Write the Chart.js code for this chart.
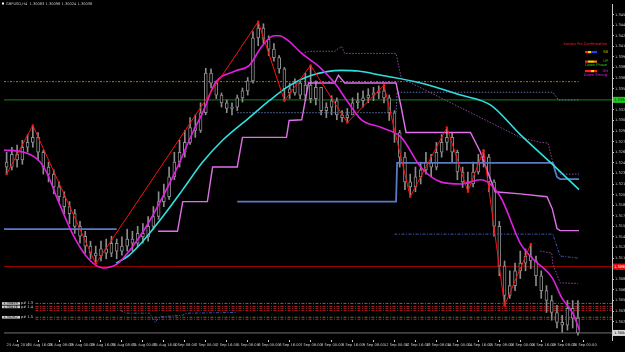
<!DOCTYPE html>
<html>
<head>
<meta charset="utf-8">
<script src="https://cdn.jsdelivr.net/npm/chart.js@4.4.1/dist/chart.umd.min.js"></script>
<style>
  html, body { margin: 0; padding: 0; background: #000; }
  #wrap { width: 625px; height: 352px; }
  canvas { display: block; }
</style>
</head>
<body>
<div id="wrap"><canvas id="chart" width="625" height="352"></canvas></div>
<script>
const dateLabels = ['25 Aug 2016','25 Aug 16:00','26 Aug 08:00','29 Aug 00:00','29 Aug 16:00','30 Aug 08:00',
  '31 Aug 00:00','31 Aug 16:00','1 Sep 08:00','2 Sep 00:00','2 Sep 16:00','5 Sep 08:00','6 Sep 00:00',
  '6 Sep 16:00','7 Sep 08:00','8 Sep 00:00','8 Sep 16:00','9 Sep 08:00','12 Sep 00:00','12 Sep 16:00',
  '13 Sep 08:00','14 Sep 00:00','14 Sep 16:00','15 Sep 08:00','16 Sep 00:00','16 Sep 16:00','19 Sep 08:00','20 Sep 00:00'];

const priceTicks = [1.3455,1.3440,1.3425,1.3410,1.3395,1.3380,1.3365,1.3350,1.3335,1.3320,1.3305,1.3290,
  1.3275,1.3260,1.3245,1.3230,1.3215,1.3200,1.3185,1.3170,1.3155,1.3140,1.3125,1.3110,1.3095,1.3080,
  1.3065,1.3050,1.3035,1.3020,1.3005];

const firstOpen = 1.3246;
const closes = [1.3239,1.3257,1.3249,1.3267,1.3274,1.3281,1.3260,1.3239,1.3229,1.3211,
  1.3197,1.3183,1.3173,1.3155,1.3141,1.3127,1.3117,1.3113,1.3123,1.3117,
  1.3131,1.3120,1.3127,1.3137,1.3131,1.3145,1.3140,1.3155,1.3169,1.3190,
  1.3197,1.3225,1.3246,1.3260,1.3274,1.3295,1.3291,1.3316,1.3372,1.3358,
  1.3341,1.3330,1.3322,1.3324,1.3337,1.3347,1.3361,1.3422,1.3436,1.3420,
  1.3406,1.3394,1.3378,1.3350,1.3344,1.3358,1.3341,1.3355,1.3336,1.3352,
  1.3319,1.3324,1.3333,1.3313,1.3309,1.3313,1.3330,1.3333,1.3337,1.3341,
  1.3344,1.3347,1.3337,1.3316,1.3288,1.3253,1.3218,1.3211,1.3225,1.3235,
  1.3246,1.3239,1.3260,1.3274,1.3281,1.3260,1.3232,1.3218,1.3215,1.3232,
  1.3246,1.3253,1.3218,1.3155,1.3099,1.3057,1.3071,1.3092,1.3103,1.3113,
  1.3106,1.3085,1.3064,1.3050,1.3033,1.3019,1.3015,1.3039,1.3025,1.3004];
const highs = [1.3260,1.3267,1.3270,1.3277,1.3285,1.3298,1.3288,1.3263,1.3246,1.3235,
  1.3218,1.3204,1.3190,1.3179,1.3162,1.3148,1.3134,1.3127,1.3134,1.3137,
  1.3141,1.3137,1.3140,1.3151,1.3148,1.3155,1.3159,1.3169,1.3183,1.3204,
  1.3215,1.3239,1.3260,1.3277,1.3291,1.3309,1.3313,1.3330,1.3379,1.3378,
  1.3361,1.3344,1.3334,1.3330,1.3341,1.3351,1.3366,1.3431,1.3445,1.3442,
  1.3425,1.3414,1.3397,1.3380,1.3358,1.3364,1.3361,1.3372,1.3383,1.3361,
  1.3352,1.3330,1.3340,1.3337,1.3319,1.3322,1.3337,1.3344,1.3347,1.3350,
  1.3352,1.3354,1.3355,1.3341,1.3319,1.3291,1.3260,1.3229,1.3239,1.3246,
  1.3260,1.3257,1.3274,1.3285,1.3295,1.3288,1.3263,1.3239,1.3232,1.3246,
  1.3257,1.3263,1.3257,1.3221,1.3162,1.3106,1.3092,1.3103,1.3120,1.3123,
  1.3130,1.3113,1.3092,1.3071,1.3057,1.3043,1.3029,1.3050,1.3050,1.3050];
const lows = [1.3229,1.3235,1.3239,1.3243,1.3260,1.3267,1.3249,1.3229,1.3218,1.3201,
  1.3190,1.3173,1.3159,1.3145,1.3131,1.3117,1.3109,1.3102,1.3106,1.3109,
  1.3112,1.3109,1.3114,1.3120,1.3120,1.3126,1.3131,1.3134,1.3151,1.3165,
  1.3183,1.3193,1.3221,1.3239,1.3253,1.3271,1.3281,1.3288,1.3313,1.3351,
  1.3336,1.3324,1.3316,1.3313,1.3319,1.3331,1.3341,1.3358,1.3411,1.3414,
  1.3397,1.3389,1.3372,1.3333,1.3336,1.3341,1.3336,1.3333,1.3330,1.3327,
  1.3313,1.3309,1.3313,1.3306,1.3303,1.3302,1.3313,1.3322,1.3324,1.3330,
  1.3333,1.3336,1.3330,1.3305,1.3274,1.3239,1.3207,1.3197,1.3204,1.3215,
  1.3229,1.3225,1.3235,1.3253,1.3263,1.3246,1.3221,1.3210,1.3204,1.3211,
  1.3229,1.3239,1.3204,1.3141,1.3085,1.3043,1.3053,1.3064,1.3081,1.3092,
  1.3095,1.3071,1.3053,1.3033,1.3022,1.3011,1.3005,1.3008,1.3011,1.3001];

// indicatori: [barra, prezzo]
const zigzag = [[0,1.3229],[5,1.3298],[17,1.3102],[48,1.3445],[53,1.3333],[58,1.3383],[65,1.3302],
  [72,1.3355],[77,1.3197],[84,1.3295],[88,1.3204],[91,1.3263],[95,1.3043],[100,1.3130]];
const fastMA = [[-0.5,1.3263],[3.3,1.3260],[7.1,1.3239],[9.9,1.3190],[12.8,1.3141],[15.6,1.3109],[18.4,1.3096],
  [21.3,1.3103],[24.1,1.3127],[27,1.3159],[29.8,1.3197],[32.6,1.3239],[35.5,1.3288],[37.4,1.3316],
  [39.8,1.3358],[43.6,1.3375],[46.3,1.3383],[48.7,1.3410],[51,1.3425],[52,1.3425],[53.9,1.3417],
  [56.3,1.3400],[59.5,1.3382],[62.6,1.3358],[65.2,1.3330],[67.7,1.3306],[71.5,1.3295],[75.3,1.3281],
  [79,1.3239],[82.8,1.3218],[86.6,1.3215],[90.4,1.3221],[94.2,1.3197],[98,1.3131],[100.4,1.3109],
  [104.1,1.3082],[105.9,1.3054],[108,1.3032],[109.3,1.3008]];
const slowMA = [[20.9,1.3103],[23.2,1.3113],[26,1.3134],[29.8,1.3169],[33.6,1.3207],[37.4,1.3246],
  [41.2,1.3277],[46.3,1.3309],[50.1,1.3333],[53.9,1.3354],[58.2,1.3369],[63.9,1.3376],[67.1,1.3375],
  [71.5,1.3369],[79,1.3358],[86.6,1.3341],[92.3,1.3327],[98,1.3285],[103.7,1.3246],[109.2,1.3207]];
const blueStep = [[-0.5,1.3151],[21,1.3151],null,[44,1.3190],[74.3,1.3190],[74.5,1.3245],[104.2,1.3245],
  [105,1.3225],[105.6,1.3222],[109.2,1.3222]];
const blueUpper = [[44,1.3316],[74.3,1.3316],[74.5,1.3345],[104.2,1.3345],[105.3,1.3334],[109.2,1.3334]];
const blueLower = [[21.7,1.3036],[22.8,1.3032],[27.3,1.3032],[28.3,1.3019],[29.2,1.3027],[33.6,1.3029],
  [34.2,1.3032],[44,1.3033],null,[74,1.3144],[104.2,1.3144],[105.6,1.3113],[109,1.3110]];
const pinkStep = [[28.9,1.3148],[32.6,1.3148],[33.6,1.3190],[38.3,1.3190],[39.3,1.3239],[44,1.3239],
  [45,1.3281],[53.4,1.3281],[53.9,1.3305],[56.3,1.3306],[57.6,1.3358],[62.6,1.3358],[63.3,1.3369],
  [64.5,1.3358],[74.3,1.3358],[75.3,1.3323],[76.2,1.3288],[88.5,1.3288],[90.4,1.3260],[93.2,1.3204],
  [98,1.3201],[103.1,1.3197],[104.1,1.3180],[105,1.3152],[105.6,1.3149],[109.2,1.3149]];
const upperBand = [[56.3,1.3400],[57.6,1.3403],[62.6,1.3403],[63.9,1.3410],[64.5,1.3400],[74.3,1.3400],
  [75.3,1.3365],[98,1.3281],[101.8,1.3274],[103.3,1.3273],[104.2,1.3246],[105.6,1.3229],[109.2,1.3229]];
const lowerDots = [[101.8,1.3120],[104,1.3117],[104.2,1.3102],[105.6,1.3075],[109,1.3074]];

// livelli orizzontali
const levelTrend = 1.3360;
const levelGreen = 1.33342;
const levelRed = 1.3098;
const pivotLevels = [
  { price: 1.30458, color: '#1e9a1e' },
  { price: 1.30416, color: '#c02020' },
  { price: 1.30388, color: '#802828' },
  { price: 1.30360, color: '#d01818' },
  { price: 1.30262, color: '#1e9a1e' },
  { price: 1.30234, color: '#c02020' }
];
const bidPrice = closes[closes.length - 1];

const nBars = closes.length;
const pts = arr => arr.map(p => p ? { x: p[0], y: p[1] } : { x: NaN, y: null });
const hline = (price, x0, x1) => [{ x: x0, y: price }, { x: x1, y: price }];

const bodies = [], wicks = [];
for (let i = 0; i < nBars; i++) {
  const o = i ? closes[i - 1] : firstOpen;
  bodies.push({ x: i, y: [o, closes[i]] });
  wicks.push({ x: i, y: [lows[i], highs[i]] });
}

const lineDs = (data, color, width, order, extra) => Object.assign({
  type: 'line', data, borderColor: color, borderWidth: width, pointRadius: 0,
  fill: false, order, spanGaps: false
}, extra || {});

const datasets = [
  lineDs(pts(zigzag), '#ff1010', 1, 1, { pointRadius: 1.2, pointBackgroundColor: '#ff1010', pointBorderWidth: 0 }),
  lineDs(pts(fastMA), '#e020e0', 1.6, 2, { cubicInterpolationMode: 'monotone' }),
  lineDs(pts(slowMA), '#30e0e0', 1.6, 2, { cubicInterpolationMode: 'monotone' }),
  lineDs(pts(blueStep), '#5a7ac8', 1.8, 3),
  lineDs(pts(pinkStep), '#e070e8', 1.4, 3),
  lineDs(pts(upperBand), '#8a4a9a', 1, 3, { borderDash: [1.5, 1.5] }),
  lineDs(pts(blueUpper), '#5a70a8', 1, 3, { borderDash: [1.5, 1.5] }),
  lineDs(pts(blueLower), '#3a58b0', 1, 3, { borderDash: [3, 1.5, 1, 1.5] }),
  lineDs(pts(lowerDots), '#8a4a9a', 1, 3, { borderDash: [1.5, 1.5] }),
  { type: 'bar', data: bodies, backgroundColor: '#000', borderColor: '#8c8c8c', borderWidth: 1,
    borderSkipped: false, barThickness: 3, minBarLength: 1, order: 5, grouped: false },
  { type: 'bar', data: wicks, backgroundColor: '#8c8c8c', borderWidth: 0,
    barThickness: 1, order: 6, grouped: false },
  lineDs(hline(levelTrend, -0.5, 109.3), '#c07428', 1, 8, { borderDash: [2, 1.5, 1, 1.5] }),
  lineDs(hline(levelGreen, -0.5, 115.5), '#0f6a12', 1.2, 8),
  lineDs(hline(levelRed, -0.5, 115.5), '#a00000', 1, 8),
  lineDs(hline(bidPrice, -0.5, 115.5), '#707070', 1, 8)
];
pivotLevels.forEach(l => datasets.push(lineDs(hline(l.price, 5.5, 115.5), l.color, 1, 8, { borderDash: [3, 1.5, 1, 1.5] })));

const smallFont = '3.6px "DejaVu Sans"';

const overlay = {
  id: 'overlay',
  afterDraw(chart) {
    const { ctx, chartArea } = chart;
    const y = chart.scales.y;
    ctx.save();
    ctx.textBaseline = 'middle';
    // etichette prezzo sull'asse
    const boxes = [
      { price: levelGreen, bg: '#18d018', fg: '#003000' },
      { price: levelRed, bg: '#e01010', fg: '#ffffff' },
      { price: bidPrice, bg: '#d8d8d8', fg: '#000000' }
    ];
    boxes.forEach(b => {
      const py = y.getPixelForValue(b.price);
      ctx.fillStyle = b.bg;
      ctx.fillRect(chartArea.right + 1, py - 3, 13, 6);
      ctx.fillStyle = b.fg;
      ctx.font = smallFont;
      ctx.textAlign = 'left';
      ctx.fillText(b.price.toFixed(5), chartArea.right + 2, py);
    });
    // intestazione
    ctx.fillStyle = '#ffffff';
    ctx.fillRect(2, 2.5, 2, 2);
    ctx.fillStyle = '#c8c8c8';
    ctx.font = smallFont;
    ctx.fillText('GBPUSD,H4  1.30083 1.30098 1.30024 1.30038', 6, 4);
    // pannello a destra
    ctx.textAlign = 'right';
    ctx.fillStyle = '#ff2020';
    ctx.fillText('Kuroko Pro Confirmation', 607, 44);
    const rows = [
      { y: 52, sq: ['#ff2020', '#ffd000', '#2040ff', '#2040ff'], tag: 'SB', tagColor: '#c8c800' },
      { y: 61.5, sq: ['#ff2020', '#ffd000', '#ffd000', '#ff8000'], tag: 'UP', tagColor: '#20d020', sub: 'Down Phase', subColor: '#20d020' },
      { y: 71, sq: ['#ff2020', '#ff2020', '#ffd000', '#ff2020'], tag: 'DN', tagColor: '#e020e0', sub: 'Down Strong', subColor: '#e020e0' }
    ];
    rows.forEach(r => {
      r.sq.forEach((c, k) => { ctx.fillStyle = c; ctx.fillRect(585 + k * 3, r.y - 1, 3, 2.2); });
      ctx.fillStyle = r.tagColor;
      ctx.fillText(r.tag, 608, r.y);
      if (r.sub) { ctx.fillStyle = r.subColor; ctx.fillText(r.sub, 607, r.y + 4); }
    });
    // etichette dei livelli in basso a sinistra
    ctx.textAlign = 'left';
    [pivotLevels[0].price, pivotLevels[1].price, pivotLevels[4].price].forEach((p, k) => {
      const py = y.getPixelForValue(p) + (k === 1 ? 0.5 : 0);
      ctx.fillStyle = '#d0d0d0';
      ctx.fillRect(2, py - 1.3, 18, 2.6);
      ctx.fillStyle = '#000';
      ctx.fillText(p.toFixed(5), 3, py);
      ctx.fillStyle = '#d0d0d0';
      ctx.fillText('p# 1.' + (k + 3), 21, py);
    });
    ctx.restore();
  }
};

new Chart(document.getElementById('chart'), {
  type: 'bar',
  data: { datasets },
  options: {
    responsive: false,
    animation: false,
    devicePixelRatio: 1,
    parsing: true,
    layout: { padding: 0 },
    plugins: { legend: { display: false }, tooltip: { enabled: false } },
    scales: {
      x: {
        type: 'linear', min: -0.5, max: 115.5, offset: false,
        grid: { display: true, drawOnChartArea: false, tickLength: 2, color: '#c8c8c8' },
        border: { display: false },
        afterBuildTicks: s => { s.ticks = dateLabels.map((d, k) => ({ value: k * 4 })); },
        afterFit: s => { s.height = 12; },
        ticks: {
          autoSkip: false, maxRotation: 0, align: 'start', padding: 1,
          color: '#c8c8c8', font: { size: 3.6, family: 'DejaVu Sans' },
          callback: v => dateLabels[Math.round(v / 4)]
        }
      },
      y: {
        position: 'right', min: 1.2994, max: 1.3470,
        grid: { display: true, drawOnChartArea: false, tickLength: 2, color: '#c8c8c8' },
        border: { display: true, color: '#c8c8c8', width: 1 },
        afterBuildTicks: s => { s.ticks = priceTicks.map(v => ({ value: v })); },
        afterFit: s => { s.width = 13; },
        ticks: {
          autoSkip: false, padding: 1, color: '#c8c8c8', font: { size: 3.6, family: 'DejaVu Sans' },
          callback: v => v.toFixed(4)
        }
      }
    }
  },
  plugins: [overlay]
});
</script>
</body>
</html>
